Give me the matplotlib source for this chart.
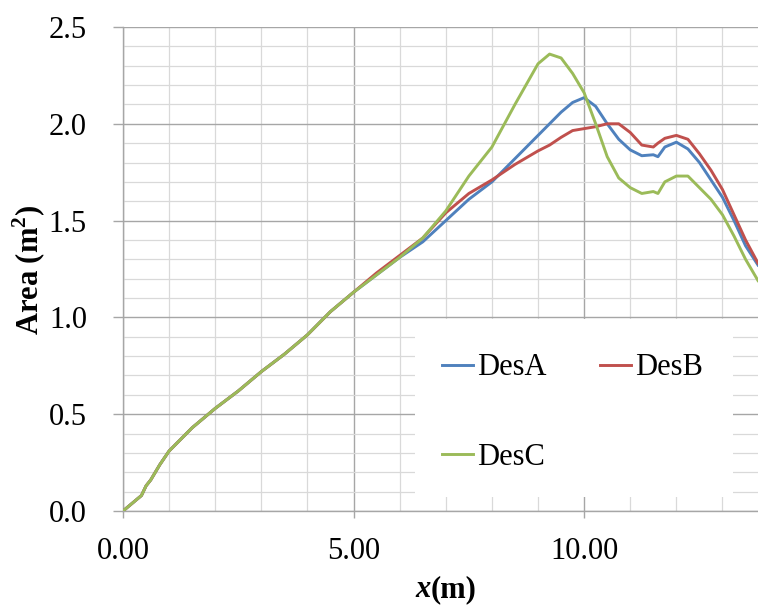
#!/usr/bin/env python3
"""Cross-section area along x for three designs."""
import matplotlib

matplotlib.use("Agg")
import matplotlib.pyplot as plt
from matplotlib.patches import Rectangle
from matplotlib.ticker import FormatStrFormatter, MultipleLocator

plt.rcParams["font.family"] = ["Liberation Serif", "DejaVu Serif"]
plt.rcParams["mathtext.fontset"] = "custom"
plt.rcParams["mathtext.rm"] = "Liberation Serif"
plt.rcParams["mathtext.bf"] = "Liberation Serif:bold"

# station positions along the hull (m)
x_pos = [0.0, 0.2, 0.4, 0.5, 0.6, 0.8, 1.0, 1.5, 2.0, 2.5, 3.0, 3.5, 4.0,
         4.5, 5.0, 5.5, 6.0, 6.5, 7.0, 7.5, 8.0, 8.5, 9.0, 9.25, 9.5, 9.75,
         10.0, 10.25, 10.5, 10.75, 11.0, 11.25, 11.5, 11.6, 11.75, 12.0,
         12.25, 12.5, 12.75, 13.0, 13.25, 13.5, 13.77]

area_des_a = [0.0, 0.04, 0.08, 0.13, 0.16, 0.24, 0.31, 0.43, 0.53, 0.62,
              0.72, 0.81, 0.91, 1.03, 1.13, 1.22, 1.31, 1.39, 1.50, 1.61,
              1.70, 1.82, 1.94, 2.00, 2.06, 2.11, 2.135, 2.09, 2.00, 1.92,
              1.865, 1.835, 1.84, 1.83, 1.88, 1.905, 1.87, 1.80, 1.71, 1.62,
              1.50, 1.37, 1.27]

area_des_b = [0.0, 0.04, 0.08, 0.13, 0.16, 0.24, 0.31, 0.43, 0.53, 0.62,
              0.72, 0.81, 0.91, 1.03, 1.13, 1.23, 1.32, 1.41, 1.54, 1.64,
              1.71, 1.79, 1.86, 1.89, 1.93, 1.965, 1.975, 1.985, 2.00, 2.00,
              1.955, 1.89, 1.88, 1.90, 1.925, 1.94, 1.92, 1.845, 1.76, 1.66,
              1.53, 1.40, 1.28]

area_des_c = [0.0, 0.04, 0.08, 0.13, 0.16, 0.24, 0.31, 0.43, 0.53, 0.62,
              0.72, 0.81, 0.91, 1.03, 1.13, 1.22, 1.31, 1.41, 1.55, 1.73,
              1.88, 2.10, 2.31, 2.36, 2.34, 2.26, 2.16, 2.00, 1.83, 1.72,
              1.67, 1.64, 1.65, 1.64, 1.70, 1.73, 1.73, 1.67, 1.61, 1.53,
              1.42, 1.30, 1.19]

SERIES = [
    ("DesA", area_des_a, "#4F81BD"),
    ("DesB", area_des_b, "#C0504D"),
    ("DesC", area_des_c, "#9BBB59"),
]

GRID_MAJOR = "#a6a6a6"
GRID_MINOR = "#d9d9d9"
FS = 22


def main():
    fig = plt.figure(figsize=(7.58, 6.05), dpi=100)
    ax = fig.add_axes([0.1623, 0.1554, 0.8377, 0.8000])

    handles = {}
    for label, vals, color in SERIES:
        (ln,) = ax.plot(x_pos, vals, color=color, lw=2.1, label=label, zorder=3)
        handles[label] = ln

    ax.set_xlim(0, 13.77)
    ax.set_ylim(0, 2.5)
    ax.xaxis.set_major_locator(MultipleLocator(5))
    ax.xaxis.set_minor_locator(MultipleLocator(1))
    ax.yaxis.set_major_locator(MultipleLocator(0.5))
    ax.yaxis.set_minor_locator(MultipleLocator(0.1))
    ax.xaxis.set_major_formatter(FormatStrFormatter("%.2f"))
    ax.yaxis.set_major_formatter(FormatStrFormatter("%.1f"))

    ax.set_axisbelow(True)
    ax.grid(which="major", color=GRID_MAJOR, lw=1.0)
    ax.grid(which="minor", color=GRID_MINOR, lw=0.9)
    for side in ("top", "right"):
        ax.spines[side].set_visible(False)
    for side in ("left", "bottom"):
        ax.spines[side].set_color(GRID_MAJOR)
        ax.spines[side].set_linewidth(1.0)

    ax.tick_params(axis="y", which="major", length=7, width=1.0,
                   color=GRID_MAJOR, pad=19, labelsize=FS)
    ax.tick_params(axis="x", which="major", length=5, width=1.0,
                   color=GRID_MAJOR, pad=14, labelsize=FS)
    ax.tick_params(which="minor", length=0)

    # white legend panel covering the grid
    ax.add_patch(Rectangle((6.33, 0.072), 6.9, 0.918, facecolor="white",
                           edgecolor="none", zorder=1))
    ax.legend(
        handles=[handles["DesA"], handles["DesC"], handles["DesB"]],
        ncol=2,
        loc="upper left",
        bbox_to_anchor=(0.5024, 0.326),
        frameon=False,
        fontsize=FS,
        handlelength=1.0,
        handletextpad=0.15,
        columnspacing=1.75,
        labelspacing=1.98,
        borderpad=0,
        borderaxespad=0,
    )

    fig.text(0.039, 0.554, r"Area (m$^{\mathbf{2}}$)", rotation=90,
             ha="center", va="center", fontsize=FS, fontweight="bold")
    fig.text(0.568, 0.026, "x", ha="right", va="center", fontsize=FS,
             fontweight="bold", fontstyle="italic")
    fig.text(0.568, 0.026, "(m)", ha="left", va="center", fontsize=FS,
             fontweight="bold")

    fig.savefig("out.png", dpi=100)
    plt.close(fig)


if __name__ == "__main__":
    main()
